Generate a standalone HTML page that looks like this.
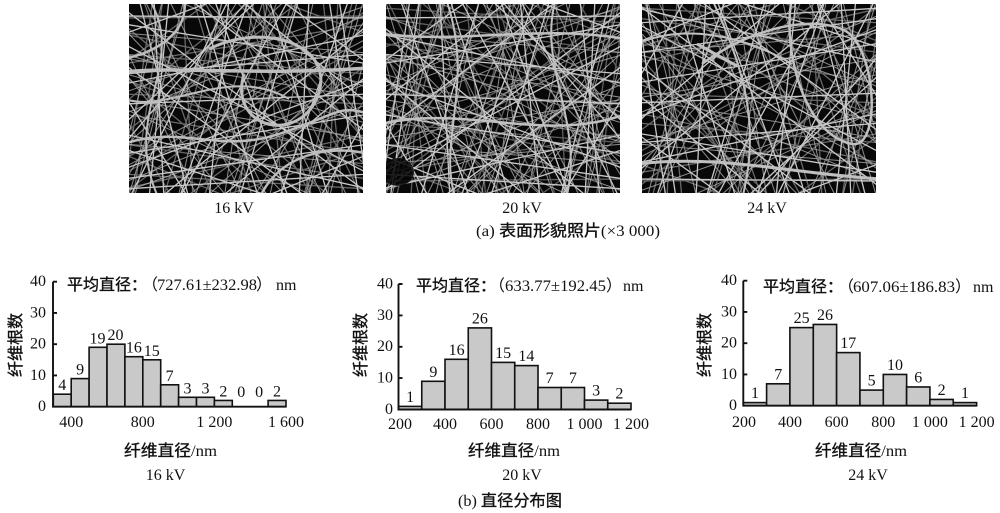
<!DOCTYPE html>
<html><head><meta charset="utf-8">
<style>
html,body{margin:0;padding:0;background:#fff;}
svg{display:block;}
text{font-family:"Liberation Serif","WenQuanYi Zen Hei","Noto Sans CJK SC",serif;fill:#111;}
.n{font-size:16px;}
.cj{font-family:"Liberation Serif","WenQuanYi Zen Hei","Noto Sans CJK SC",sans-serif;font-size:16px;}
.h{stroke:#111;stroke-width:0.35;}
.bar{fill:#c9c9c9;stroke:#111;stroke-width:1.6;}
.ax{stroke:#111;stroke-width:1.9;fill:none;}
</style></head>
<body>
<svg width="1000" height="513" viewBox="0 0 1000 513" xmlns="http://www.w3.org/2000/svg">
<defs>
<path id="fa" fill="none" stroke="#c8c8c8" stroke-width="1.3" d="M-5 20L240 60M-5 80L240 30M-5 150L240 110M-5 40L240 170M-5 175L240 140M10 -5L60 195M40 -5L20 195M70 -5L130 195M100 -5L80 195M140 -5L200 195M170 -5L110 195M200 -5L230 195M220 -5L150 195M-5 100L240 90M-5 120L130 -5M30 195L240 20M-5 60L180 195M60 -5L240 130M-5 5L240 190M120 -5L-5 140M240 70L90 195M-5 185L240 170M-5 130L240 185M150 -5L240 60M-5 30L90 -5M0 195L100 -5M180 -5L170 195M110 -5L240 100M-5 165L240 75M50 195L120 -5M190 195L240 110M-5 90L60 195M85 -5L160 195M210 -5L240 195M-5 70L240 50M-5 12L240 14M25 -5L35 195M130 195L240 150M-5 145L150 195M160 -5L50 195"/>
<path id="fb" fill="none" stroke="#8c8c8c" stroke-width="1" d="M-5 50L240 120M-5 110L240 10M15 -5L115 195M55 -5L5 195M95 -5L195 195M125 -5L95 195M185 -5L140 195M235 -5L175 195M-5 140L240 160M-5 25L160 195M75 195L240 45M-5 178L110 -5M200 195L240 35M-5 95L240 135M45 -5L240 85M-5 68L100 195M165 -5L240 150M-5 188L240 100M135 -5L65 195M-5 155L240 25"/>
<clipPath id="cl"><rect x="0" y="0" width="234" height="189"/></clipPath>
</defs>

<!-- SEM image 1 -->
<g transform="translate(129,4)" clip-path="url(#cl)">
<rect width="234" height="189" fill="#080808"/>
<use href="#fb"/>
<use href="#fb" transform="translate(234,189) scale(-1,-1)"/>
<use href="#fa"/>
<use href="#fa" transform="translate(234,0) scale(-1,1)" opacity="0.5"/>
<g fill="none" stroke="#bdbdbd">
<path stroke-width="3.5" d="M-5 68 C50 62 120 72 240 64"/>
<path stroke-width="2.5" d="M-5 55 C40 45 60 20 55 -5"/>
<path stroke-width="3" d="M80 45 C140 15 215 45 185 100 C160 140 100 120 115 70"/>
<path stroke-width="2.5" d="M-5 140 C50 120 90 150 150 130 S210 100 240 110"/>
<path stroke-width="2" d="M20 -5 C60 60 -10 110 30 195"/>
<path stroke-width="2.5" d="M130 195 C150 150 200 140 240 150"/>
<path stroke-width="2" d="M-5 95 C40 110 100 60 160 95"/>
</g>
</g>

<!-- SEM image 2 -->
<g transform="translate(386,4)" clip-path="url(#cl)">
<rect width="234" height="189" fill="#080808"/>
<use href="#fb" transform="translate(234,0) scale(-1,1)"/>
<use href="#fb" transform="translate(234,189) scale(-1,-1)"/>
<use href="#fb"/>
<use href="#fa" transform="translate(234,0) scale(-1,1)"/>
<use href="#fa" transform="translate(0,189) scale(1,-1)" opacity="0.45"/>
<g fill="none" stroke="#c0c0c0">
<path stroke-width="2.5" d="M-5 30 C80 40 150 20 240 35"/>
<path stroke-width="2" d="M60 -5 C90 80 50 140 70 195"/>
<path stroke-width="2.5" d="M-5 120 C80 100 160 140 240 110"/>
<path stroke-width="2" d="M170 -5 C150 60 200 120 180 195"/>
</g>
<ellipse cx="12" cy="168" rx="16" ry="14" fill="#050505" opacity="0.85"/>
</g>

<!-- SEM image 3 -->
<g transform="translate(642,4)" clip-path="url(#cl)">
<rect width="234" height="189" fill="#080808"/>
<use href="#fb"/>
<use href="#fb" transform="translate(0,189) scale(1,-1)"/>
<use href="#fa" transform="translate(234,189) scale(-1,-1)"/>
<use href="#fa" transform="translate(0,189) scale(1,-1)" opacity="0.5"/>
<g fill="none" stroke="#c0c0c0">
<path stroke-width="2.5" d="M150 -5 C140 40 160 130 210 140 C240 145 235 40 200 25 C160 10 100 30 60 60"/>
<path stroke-width="3" d="M-5 160 C80 150 150 170 240 175"/>
<path stroke-width="2" d="M70 -5 C100 60 120 120 100 195"/>
<path stroke-width="2" d="M-5 40 C40 20 100 30 150 60"/>
<path stroke-width="3" d="M55 40 L95 62"/>
</g>
</g>

<!-- image captions -->
<text class="n" x="234" y="213" text-anchor="middle">16 kV</text>
<text class="n" x="522" y="213" text-anchor="middle">20 kV</text>
<text class="n" x="767" y="213" text-anchor="middle">24 kV</text>
<text class="cj" x="476" y="236" textLength="184" lengthAdjust="spacingAndGlyphs">(a)  <tspan class="h">表面形貌照片</tspan>(×3 000)</text>

<!-- ================= Chart 1 ================= -->
<g>
<rect class="bar" x="53.3" y="394.2" width="17.9" height="12.5"/>
<rect class="bar" x="71.2" y="378.6" width="17.9" height="28.1"/>
<rect class="bar" x="89.1" y="347.3" width="17.9" height="59.4"/>
<rect class="bar" x="107.0" y="344.2" width="17.9" height="62.5"/>
<rect class="bar" x="124.9" y="356.7" width="17.9" height="50"/>
<rect class="bar" x="142.8" y="359.8" width="17.9" height="46.9"/>
<rect class="bar" x="160.7" y="384.8" width="17.9" height="21.9"/>
<rect class="bar" x="178.6" y="397.3" width="17.9" height="9.4"/>
<rect class="bar" x="196.5" y="397.3" width="17.9" height="9.4"/>
<rect class="bar" x="214.4" y="400.45" width="17.9" height="6.25"/>
<rect class="bar" x="268.1" y="400.45" width="17.9" height="6.25"/>
<path class="ax" d="M53 281.7V406.7H286"/>
<path class="ax" d="M53 281.7h4M53 312.95h4M53 344.2h4M53 375.45h4"/>
<g class="n" text-anchor="end">
<text x="46" y="411">0</text><text x="46" y="379.8">10</text><text x="46" y="348.5">20</text><text x="46" y="317.3">30</text><text x="46" y="286">40</text>
</g>
<g class="n" text-anchor="middle">
<text x="62.25" y="390.2">4</text><text x="80.15" y="374.6">9</text><text x="97.5" y="343.3">19</text><text x="115.5" y="340.2">20</text><text x="133.85" y="352.7">16</text><text x="151.75" y="355.8">15</text><text x="169.65" y="380.8">7</text><text x="187.55" y="393.3">3</text><text x="205.45" y="393.3">3</text><text x="223.35" y="396.5">2</text><text x="241.25" y="397">0</text><text x="259.15" y="397">0</text><text x="277.05" y="396.5">2</text>
</g>
<g class="n" text-anchor="middle">
<text x="71.2" y="427">400</text><text x="142.8" y="427">800</text><text x="214.4" y="427">1 200</text><text x="286" y="427">1 600</text>
</g>
<text class="cj h" x="67" y="290">平均直径：</text>
<text class="cj" x="142" y="290">（</text>
<text x="157" y="290" style="font-size:16px" textLength="100" lengthAdjust="spacingAndGlyphs">727.61±232.98</text>
<text class="cj" x="256" y="290">）</text>
<text class="n" x="276" y="290">nm</text>
<text class="cj h" transform="translate(21,345) rotate(-90)" text-anchor="middle">纤维根数</text>
<text class="cj" x="170.5" y="456" text-anchor="middle" textLength="93" lengthAdjust="spacingAndGlyphs"><tspan class="h">纤维直径</tspan>/nm</text>
<text class="n" x="165.5" y="480" text-anchor="middle">16 kV</text>
</g>

<!-- ================= Chart 2 ================= -->
<g>
<rect class="bar" x="398.5" y="406.4" width="23.25" height="3.1"/>
<rect class="bar" x="421.75" y="381.3" width="23.25" height="28.2"/>
<rect class="bar" x="445" y="359.3" width="23.25" height="50.2"/>
<rect class="bar" x="468.25" y="327.9" width="23.25" height="81.6"/>
<rect class="bar" x="491.5" y="362.4" width="23.25" height="47.1"/>
<rect class="bar" x="514.75" y="365.6" width="23.25" height="43.9"/>
<rect class="bar" x="538" y="387.5" width="23.25" height="22"/>
<rect class="bar" x="561.25" y="387.5" width="23.25" height="22"/>
<rect class="bar" x="584.5" y="400.1" width="23.25" height="9.4"/>
<rect class="bar" x="607.75" y="403.2" width="23.25" height="6.3"/>
<path class="ax" d="M398.5 284V409.5H631"/>
<path class="ax" d="M398.5 284h4M398.5 315.4h4M398.5 346.8h4M398.5 378.1h4"/>
<g class="n" text-anchor="end">
<text x="393" y="414">0</text><text x="393" y="382.5">10</text><text x="393" y="351.2">20</text><text x="393" y="319.8">30</text><text x="393" y="288.4">40</text>
</g>
<g class="n" text-anchor="middle">
<text x="410.1" y="401.9">1</text><text x="433.4" y="376.8">9</text><text x="456.6" y="354.8">16</text><text x="479.9" y="323.4">26</text><text x="503.1" y="357.9">15</text><text x="526.4" y="361.1">14</text><text x="549.6" y="383">7</text><text x="572.9" y="383">7</text><text x="596.1" y="395.6">3</text><text x="619.4" y="398.7">2</text>
</g>
<g class="n" text-anchor="middle">
<text x="400" y="429">200</text><text x="445" y="429">400</text><text x="491.5" y="429">600</text><text x="538" y="429">800</text><text x="584.5" y="429">1 000</text><text x="631" y="429">1 200</text>
</g>
<text class="cj h" x="416" y="291">平均直径：</text>
<text class="cj" x="489" y="291">（</text>
<text x="505" y="291" style="font-size:16px" textLength="101" lengthAdjust="spacingAndGlyphs">633.77±192.45</text>
<text class="cj" x="606" y="291">）</text>
<text class="n" x="623" y="291">nm</text>
<text class="cj h" transform="translate(366,345) rotate(-90)" text-anchor="middle">纤维根数</text>
<text class="cj" x="514" y="456" text-anchor="middle" textLength="92" lengthAdjust="spacingAndGlyphs"><tspan class="h">纤维直径</tspan>/nm</text>
<text class="n" x="522" y="480" text-anchor="middle">20 kV</text>
</g>

<!-- ================= Chart 3 ================= -->
<g>
<rect class="bar" x="743.3" y="402.6" width="23.33" height="3.1"/>
<rect class="bar" x="766.6" y="383.8" width="23.33" height="21.9"/>
<rect class="bar" x="789.9" y="327.6" width="23.33" height="78.1"/>
<rect class="bar" x="813.3" y="324.45" width="23.33" height="81.25"/>
<rect class="bar" x="836.6" y="352.6" width="23.33" height="53.1"/>
<rect class="bar" x="859.95" y="390.1" width="23.33" height="15.6"/>
<rect class="bar" x="883.3" y="374.45" width="23.33" height="31.25"/>
<rect class="bar" x="906.6" y="386.95" width="23.33" height="18.75"/>
<rect class="bar" x="929.9" y="399.45" width="23.33" height="6.25"/>
<rect class="bar" x="953.3" y="402.6" width="23.33" height="3.1"/>
<path class="ax" d="M743.3 280.7V405.7H976.6"/>
<path class="ax" d="M743.3 280.7h4M743.3 311.95h4M743.3 343.2h4M743.3 374.45h4"/>
<g class="n" text-anchor="end">
<text x="737" y="410">0</text><text x="737" y="378.8">10</text><text x="737" y="347.5">20</text><text x="737" y="316.3">30</text><text x="737" y="285">40</text>
</g>
<g class="n" text-anchor="middle">
<text x="755" y="398.1">1</text><text x="778.3" y="379.3">7</text><text x="801.6" y="323.1">25</text><text x="825" y="320">26</text><text x="848.3" y="348.1">17</text><text x="871.6" y="385.6">5</text><text x="895" y="370">10</text><text x="918.3" y="382.5">6</text><text x="941.6" y="395">2</text><text x="965" y="398.1">1</text>
</g>
<g class="n" text-anchor="middle">
<text x="744" y="427">200</text><text x="790" y="427">400</text><text x="836.6" y="427">600</text><text x="883.3" y="427">800</text><text x="929.9" y="427">1 000</text><text x="976.6" y="427">1 200</text>
</g>
<text class="cj h" x="763" y="292">平均直径：</text>
<text class="cj" x="838" y="292">（</text>
<text x="853" y="292" style="font-size:16px" textLength="102" lengthAdjust="spacingAndGlyphs">607.06±186.83</text>
<text class="cj" x="955" y="292">）</text>
<text class="n" x="973" y="292">nm</text>
<text class="cj h" transform="translate(710,345) rotate(-90)" text-anchor="middle">纤维根数</text>
<text class="cj" x="861" y="456" text-anchor="middle" textLength="92" lengthAdjust="spacingAndGlyphs"><tspan class="h">纤维直径</tspan>/nm</text>
<text class="n" x="868" y="480" text-anchor="middle">24 kV</text>
</g>

<text class="cj" x="510" y="506" text-anchor="middle" textLength="104" lengthAdjust="spacingAndGlyphs">(b)  <tspan class="h">直径分布图</tspan></text>
</svg>
</body></html>
